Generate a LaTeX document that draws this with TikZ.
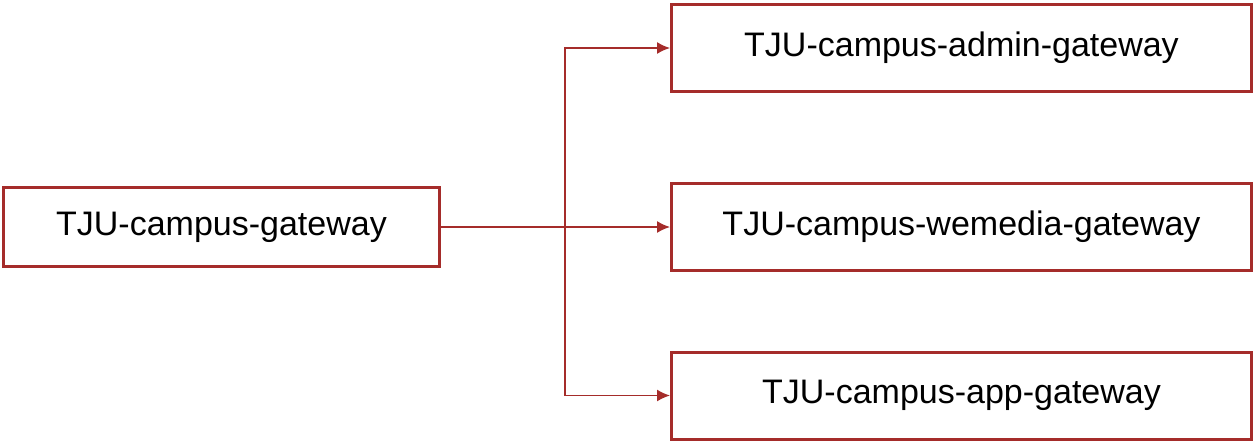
\documentclass[tikz,border=0pt]{standalone}
\usepackage{fontspec}
\setmainfont{Liberation Sans}
\usepackage{xcolor}
\usetikzlibrary{arrows.meta}
\definecolor{r1}{HTML}{A52C2A}

\tikzset{
	gwbox/.style = {draw = r1, line width = 1.5pt, fill = white, font = \fontsize{17}{20}\selectfont, inner sep = 0pt},
	conn/.style = {-{Latex[length=6.5pt,width=6pt]}, r1, line width = 0.75pt}
}

\begin{document}
\begin{tikzpicture}[x=0.5pt,y=-0.5pt]
	\useasboundingbox (0,0) rectangle (1256,444);

	\node [gwbox, minimum width = 218pt, minimum height = 39.5pt] (gw) at (221.5,227) {TJU-campus-gateway};

	\node [gwbox, minimum width = 290pt, minimum height = 43.5pt] (admin)   at (961.5,48)    {TJU-campus-admin-gateway};
	\node [gwbox, minimum width = 290pt, minimum height = 43.5pt] (wemedia) at (961.5,227)   {TJU-campus-wemedia-gateway};
	\node [gwbox, minimum width = 290pt, minimum height = 43.5pt] (app)     at (961.5,395.5) {TJU-campus-app-gateway};

	\coordinate (fork) at (565,227);
	\draw [conn] (gw.east) -- (wemedia.west);
	\draw [conn] (fork) |- (admin.west);
	\draw [conn] (fork) |- (app.west);
\end{tikzpicture}
\end{document}
